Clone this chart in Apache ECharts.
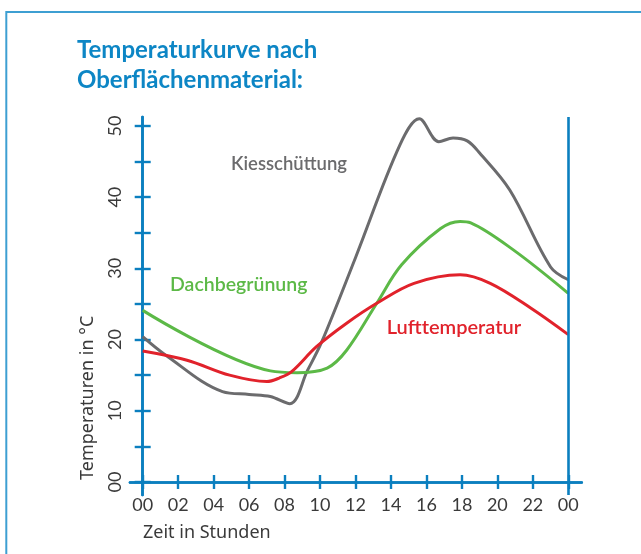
<!DOCTYPE html>
<html>
<head>
<meta charset="utf-8">
<script src="https://cdn.jsdelivr.net/npm/echarts@6/dist/echarts.min.js"></script>
<style>
  html, body { margin: 0; padding: 0; background: #ffffff; }
  #chart { width: 641px; height: 554px; }
</style>
</head>
<body>
<div id="chart"></div>
<script>
// Daily temperature curves by surface material (hour of day -> °C)
const kiesHours = [0, 1.3, 4.5, 6, 7.2, 8.3, 9.3, 10.1, 12.0, 14.5, 15.6, 16.7, 17.5, 18.3, 19.0, 20.7, 23.0, 24];
const kiesTemps = [20.4, 17.8, 12.7, 12.3, 12.0, 11.0, 15.7, 19.7, 31.5, 47.3, 51.0, 47.8, 48.3, 47.9, 46.2, 41.0, 30.2, 28.4];

const dachHours = [0, 7.2, 8.7, 10.4, 11.5, 13.2, 14.6, 16.8, 17.9, 18.5, 20.9, 24];
const dachTemps = [24.1, 15.6, 15.35, 16.0, 18.5, 25.1, 30.5, 35.6, 36.6, 36.4, 32.6, 26.5];

const luftHours = [0, 2.5, 4.9, 7.0, 7.7, 8.4, 9.8, 11.5, 13.2, 15.3, 17.9, 19.6, 21.9, 24];
const luftTemps = [18.4, 17.1, 15.0, 14.1, 14.6, 15.5, 19.0, 22.3, 25.1, 27.9, 29.1, 27.9, 24.4, 20.7];

const hourTicks = [0, 2, 4, 6, 8, 10, 12, 14, 16, 18, 20, 22, 24];
const tempTicks = [0, 5, 10, 15, 20, 25, 30, 35, 40, 45, 50];
const tempLabels = [0, 10, 20, 30, 40, 50];

const seriesNames = ['Kiesschüttung', 'Dachbegrünung', 'Lufttemperatur'];
const titleText = 'Temperaturkurve nach\nOberflächenmaterial:';
const xName = 'Zeit in Stunden';
const yName = 'Temperaturen in °C';

const BLUE = '#0b7fbf';
const GRAY = '#6b6b6d';
const GREEN = '#5cb947';
const RED = '#e1222b';
const FONT = 'Lato, "Open Sans", sans-serif';
const NAME_FONT = '"Noto Sans", "Open Sans", sans-serif';

const zip = (xs, ys) => xs.map((x, i) => [x, ys[i]]);

const axisLineStyle = { color: BLUE, width: 2.6 };

function xAxisDef(withLabels, pos) {
  return {
    type: 'value', position: pos, min: -0.716, max: 24.756,
    axisLine: { show: true, onZero: true, onZeroAxisIndex: 0, lineStyle: axisLineStyle },
    axisTick: { show: true, customValues: hourTicks, length: 7, lineStyle: { color: BLUE, width: 2.4 } },
    axisLabel: withLabels ? {
      show: true, customValues: hourTicks, margin: 1,
      color: '#3a3a3a', fontFamily: FONT, fontSize: 18,
      formatter: v => (v === 24 ? '00' : String(v).padStart(2, '0'))
    } : { show: false },
    splitLine: { show: false }
  };
}

function yAxisDef(withLabels, pos) {
  return {
    type: 'value', position: pos, min: -1.83, max: 51.26,
    axisLine: { show: true, onZero: true, onZeroAxisIndex: 0, lineStyle: axisLineStyle },
    axisTick: { show: true, customValues: tempTicks, length: 8, lineStyle: { color: BLUE, width: 2.4 } },
    axisLabel: withLabels ? {
      show: true, customValues: tempLabels, margin: 6, rotate: 90,
      color: '#3a3a3a', fontFamily: FONT, fontSize: 18,
      formatter: v => (v === 0 ? '00' : String(v))
    } : { show: false },
    splitLine: { show: false }
  };
}

function lineSeries(name, hours, temps, color, extra) {
  return Object.assign({
    name: name, type: 'line', xAxisIndex: 0, yAxisIndex: 0,
    data: zip(hours, temps), smooth: 0.35, symbol: 'none',
    lineStyle: { color: color, width: 3 }, silent: true
  }, extra || {});
}

const chart = echarts.init(document.getElementById('chart'), null, { renderer: 'canvas' });
chart.setOption({
  animation: false,
  backgroundColor: '#ffffff',
  title: {
    text: titleText, left: 77, top: 35, padding: 0,
    textStyle: { color: '#0d86c5', fontFamily: FONT, fontWeight: 'bold', fontSize: 24, lineHeight: 30 }
  },
  grid: { left: 130, top: 117, right: 59.3, bottom: 59, containLabel: false },
  xAxis: [xAxisDef(true, 'bottom'), xAxisDef(false, 'top')],
  yAxis: [yAxisDef(true, 'left'), yAxisDef(false, 'right')],
  series: [
    lineSeries(seriesNames[0], kiesHours, kiesTemps, GRAY, {
      markLine: {
        silent: true, symbol: 'none', label: { show: false },
        lineStyle: { color: BLUE, width: 2.6, type: 'solid' },
        data: [{ xAxis: 24 }]
      }
    }),
    lineSeries(seriesNames[1], dachHours, dachTemps, GREEN),
    lineSeries(seriesNames[2], luftHours, luftTemps, RED)
  ],
  graphic: [
    { type: 'rect', silent: true, z: -1,
      shape: { x: 6.3, y: 12, width: 700, height: 700 },
      style: { fill: null, stroke: '#3d9fd2', lineWidth: 2 } },
    { type: 'text', silent: true, x: 231, y: 164.5,
      style: { text: seriesNames[0], fill: GRAY, font: '600 18.5px ' + FONT, textAlign: 'left', textVerticalAlign: 'middle' } },
    { type: 'text', silent: true, x: 170, y: 284.5,
      style: { text: seriesNames[1], fill: GREEN, font: '600 19.5px ' + FONT, textAlign: 'left', textVerticalAlign: 'middle' } },
    { type: 'text', silent: true, x: 386.7, y: 328,
      style: { text: seriesNames[2], fill: RED, font: '600 20px ' + FONT, textAlign: 'left', textVerticalAlign: 'middle' } },
    { type: 'text', silent: true, x: 143, y: 532.5,
      style: { text: xName, fill: '#3a3a3a', font: '18px ' + NAME_FONT, textAlign: 'left', textVerticalAlign: 'middle' } },
    { type: 'text', silent: true, x: 88, y: 480, rotation: Math.PI / 2,
      style: { text: yName, fill: '#3a3a3a', font: '18px ' + NAME_FONT, textAlign: 'left', textVerticalAlign: 'middle' } }
  ]
});
</script>
</body>
</html>
